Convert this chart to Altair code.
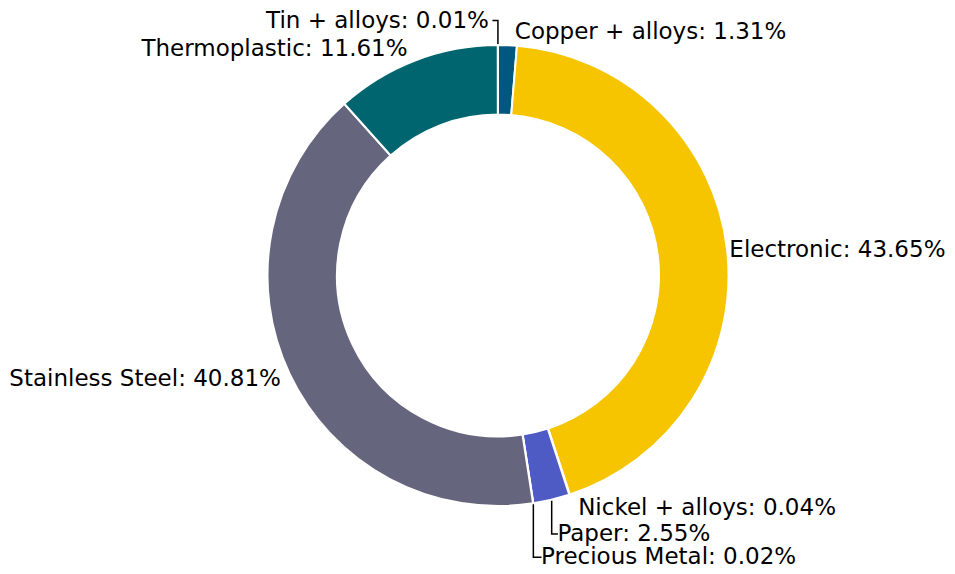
import math
import altair as alt
import pandas as pd

# ---- data ----
categories = ["Copper + alloys", "Electronic", "Nickel + alloys", "Paper",
              "Precious Metal", "Stainless Steel", "Thermoplastic", "Tin + alloys"]
shares = [1.31, 43.65, 0.04, 2.55, 0.02, 40.81, 11.61, 0.01]
colors = ["#00577f", "#f6c500", "#7d86d6", "#4f5bc5",
          "#9a9aa8", "#65657e", "#00656e", "#3b8a96"]

# ---- layout (pixels) ----
W, H = 939, 558
CX, CY = 490, 267.5          # donut centre inside the view
R_OUT, R_IN = 230.5, 161
R_LABEL = 239
FONT_SIZE = 23
# per-label nudges (dx right, dy down) applied after the natural label position
nudges = {
    "Copper + alloys": (7, -5), "Electronic": (-6, 2), "Nickel + alloys": (6, 5.5),
    "Paper": (4, 26), "Precious Metal": (6.5, 45.5), "Stainless Steel": (-1, 1),
    "Thermoplastic": (-5, -3), "Tin + alloys": (-9, -16),
}
leader_labels = ["Tin + alloys", "Paper", "Precious Metal"]

df = pd.DataFrame({"category": categories, "share": shares, "order": range(len(categories))})
df["label"] = [f"{c}: {v:.2f}%" for c, v in zip(categories, shares)]
total = sum(shares)
df["mid"] = (df["share"].cumsum() - df["share"] / 2) / total * 2 * math.pi
df["side"] = ["right" if math.sin(a) < 0 else "left" for a in df["mid"]]
df["lx"] = [R_LABEL * math.sin(a) + nudges[c][0] for a, c in zip(df["mid"], df["category"])]
df["ly"] = [R_LABEL * math.cos(a) - nudges[c][1] for a, c in zip(df["mid"], df["category"])]

# leader lines: from wedge edge, vertically to the label row, then across to the label
rows = []
for _, r in df[df["category"].isin(leader_labels)].iterrows():
    ox = (R_OUT + 1) * math.sin(r["mid"])
    oy = (R_OUT + 1) * math.cos(r["mid"])
    endx = r["lx"] + (3.5 if r["side"] == "right" else 0.5)
    rows += [
        {"category": r["category"], "step": 0, "px": ox, "py": oy},
        {"category": r["category"], "step": 1, "px": ox, "py": r["ly"]},
        {"category": r["category"], "step": 2, "px": endx, "py": r["ly"]},
    ]
lines_df = pd.DataFrame(rows)

xscale = alt.Scale(domain=[-CX, W - CX], nice=False, zero=False)
yscale = alt.Scale(domain=[-(H - CY), CY], nice=False, zero=False)

arcs = alt.Chart(df).mark_arc(
    innerRadius=R_IN, outerRadius=R_OUT, stroke="white", strokeWidth=2
).encode(
    theta=alt.Theta("share:Q", stack=True),
    order=alt.Order("order:Q"),
    color=alt.Color("category:N", scale=alt.Scale(domain=categories, range=colors), legend=None),
    x=alt.datum(0, type="quantitative", scale=xscale, axis=None),
    y=alt.datum(0, type="quantitative", scale=yscale, axis=None),
)

leaders = alt.Chart(lines_df).mark_line(color="black", strokeWidth=1.5).encode(
    x=alt.X("px:Q", scale=xscale, axis=None),
    y=alt.Y("py:Q", scale=yscale, axis=None),
    detail="category:N",
    order="step:Q",
)

def text_layer(side):
    return alt.Chart(df).transform_filter(alt.datum.side == side).mark_text(
        align=side, baseline="middle", font="DejaVu Sans", fontSize=FONT_SIZE, color="black"
    ).encode(
        x=alt.X("lx:Q", scale=xscale, axis=None),
        y=alt.Y("ly:Q", scale=yscale, axis=None),
        text="label:N",
    )

chart = alt.layer(arcs, leaders, text_layer("left"), text_layer("right")).properties(
    width=W, height=H, padding=0, autosize="none"
).configure_view(stroke=None)

chart.save("out.html", embed_options={"renderer": "svg", "actions": False})
